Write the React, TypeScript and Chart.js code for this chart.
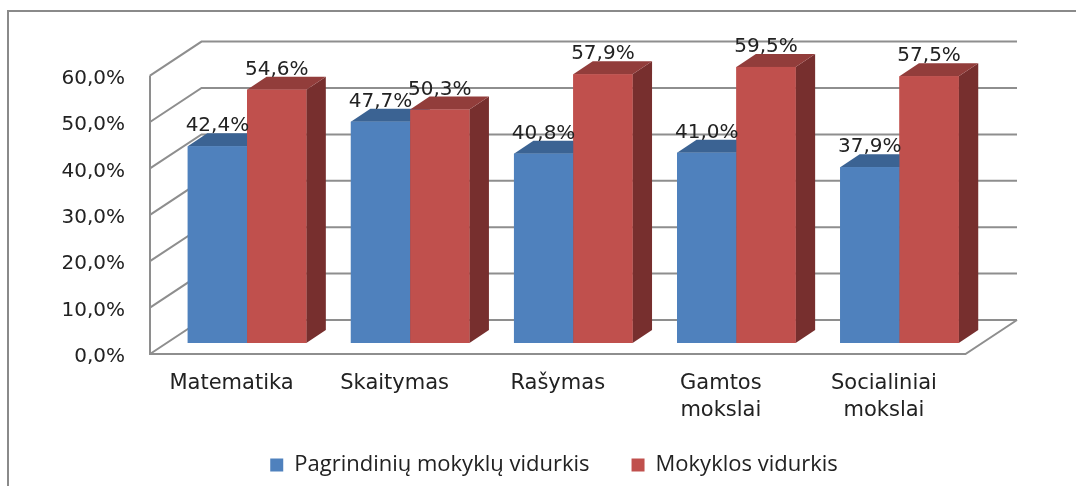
import React, { useEffect, useRef } from "react";
import { Chart, registerables } from "chart.js";

Chart.register(...registerables);

const categories: string[][] = [
  ["Matematika"],
  ["Skaitymas"],
  ["Rašymas"],
  ["Gamtos", "mokslai"],
  ["Socialiniai", "mokslai"],
];
const seriesNames = ["Pagrindinių mokyklų vidurkis", "Mokyklos vidurkis"];
const pagrindiniuValues = [42.4, 47.7, 40.8, 41.0, 37.9];
const mokyklosValues = [54.6, 50.3, 57.9, 59.5, 57.5];
const yTickValues = [0, 10, 20, 30, 40, 50, 60];

const FRONT = ["#4F81BD", "#C0504D"];
const TOP = ["#3B6393", "#923D3B"];
const SIDE = ["#2F4F77", "#772F2E"];
const GRID = "#8E8E8E";
const TEXT = "#222222";
const TICK_FONT = "'DejaVu Sans', Verdana, sans-serif";

const BAR_DX = 19.5;
const BAR_DY = 13;
const FRONT_DX = -15.5;
const FRONT_DY = 11;
const BACK_DX = 36;
const BACK_DY = -23;

const fmt = (v: number) => v.toFixed(1).replace(".", ",") + "%";

const threeDPlugin = {
  id: "threeD",
  beforeDraw(chart: any) {
    const ctx = chart.ctx;
    ctx.save();
    ctx.strokeStyle = "#8A8A8A";
    ctx.lineWidth = 2;
    ctx.beginPath();
    ctx.moveTo(8, chart.height);
    ctx.lineTo(8, 11);
    ctx.lineTo(chart.width, 11);
    ctx.stroke();
    ctx.restore();
  },
  beforeDatasetsDraw(chart: any) {
    const ctx = chart.ctx;
    const { left, right } = chart.chartArea;
    const ys = chart.scales.y;
    ctx.save();
    ctx.strokeStyle = GRID;
    ctx.lineWidth = 2;
    yTickValues.forEach((v) => {
      const py = ys.getPixelForValue(v);
      ctx.beginPath();
      ctx.moveTo(left + FRONT_DX, py + FRONT_DY);
      ctx.lineTo(left + BACK_DX, py + BACK_DY);
      ctx.lineTo(right + BACK_DX, py + BACK_DY);
      ctx.stroke();
    });
    const y0 = ys.getPixelForValue(0);
    const yMax = ys.getPixelForValue(yTickValues[yTickValues.length - 1]);
    ctx.beginPath();
    ctx.moveTo(left + FRONT_DX, yMax + FRONT_DY);
    ctx.lineTo(left + FRONT_DX, y0 + FRONT_DY);
    ctx.lineTo(right + FRONT_DX, y0 + FRONT_DY);
    ctx.lineTo(right + BACK_DX, y0 + BACK_DY);
    ctx.stroke();
    ctx.restore();
  },
  afterDatasetsDraw(chart: any) {
    const ctx = chart.ctx;
    const metas = chart.data.datasets.map((_: any, i: number) => chart.getDatasetMeta(i));
    ctx.save();
    for (let j = 0; j < categories.length; j++) {
      metas.forEach((meta: any, i: number) => {
        const el = meta.data[j];
        const { x, y, base, width } = el.getProps(["x", "y", "base", "width"], true);
        const x0 = x - width / 2;
        const x1 = x + width / 2;
        ctx.fillStyle = SIDE[i];
        ctx.beginPath();
        ctx.moveTo(x1, y);
        ctx.lineTo(x1 + BAR_DX, y - BAR_DY);
        ctx.lineTo(x1 + BAR_DX, base - BAR_DY);
        ctx.lineTo(x1, base);
        ctx.closePath();
        ctx.fill();
        ctx.fillStyle = TOP[i];
        ctx.beginPath();
        ctx.moveTo(x0, y);
        ctx.lineTo(x0 + BAR_DX, y - BAR_DY);
        ctx.lineTo(x1 + BAR_DX, y - BAR_DY);
        ctx.lineTo(x1, y);
        ctx.closePath();
        ctx.fill();
        ctx.fillStyle = FRONT[i];
        ctx.fillRect(x0, y, width, base - y);
      });
    }
    ctx.fillStyle = TEXT;
    ctx.font = `20px ${TICK_FONT}`;
    ctx.textAlign = "center";
    ctx.textBaseline = "alphabetic";
    metas.forEach((meta: any, i: number) => {
      meta.data.forEach((el: any, j: number) => {
        const { x, y } = el.getProps(["x", "y"], true);
        const v = chart.data.datasets[i].data[j];
        ctx.fillText(fmt(v), x, y - 15);
      });
    });
    ctx.restore();
  },
};

export default function App() {
  const ref = useRef<HTMLCanvasElement>(null);
  useEffect(() => {
    if (!ref.current) return;
    const chart = new Chart(ref.current, {
      type: "bar",
      data: {
        labels: categories,
        datasets: [
          { label: seriesNames[0], data: pagrindiniuValues, backgroundColor: FRONT[0], borderWidth: 0 },
          { label: seriesNames[1], data: mokyklosValues, backgroundColor: FRONT[1], borderWidth: 0 },
        ],
      },
      options: {
        responsive: false,
        animation: false,
        categoryPercentage: 0.727,
        barPercentage: 1,
        layout: { padding: { top: 64.6, left: 32, right: 0, bottom: 0 } },
        plugins: {
          tooltip: { enabled: false },
          legend: {
            position: "bottom",
            labels: {
              boxWidth: 13,
              boxHeight: 13,
              padding: 42,
              color: TEXT,
              font: { family: "'Open Sans', sans-serif", size: 22 },
            },
          },
        },
        scales: {
          x: {
            grid: { display: false, drawTicks: false },
            border: { display: false },
            ticks: {
              color: TEXT,
              font: { family: TICK_FONT, size: 21, lineHeight: 1.3 },
              padding: 27,
              labelOffset: FRONT_DX,
              maxRotation: 0,
              autoSkip: false,
            },
            afterFit: (s: any) => {
              s.height = 486 - 343 - (22 + 42 + 10);
              s._computeLabelArea = () => undefined;
            },
          },
          y: {
            min: 0,
            max: 60,
            grid: { display: false, drawTicks: false },
            border: { display: false },
            afterBuildTicks: (s: any) => {
              s.ticks = yTickValues.map((v) => ({ value: v }));
            },
            ticks: {
              color: TEXT,
              font: { family: TICK_FONT, size: 20 },
              padding: 40.5,
              labelOffset: 14,
              callback: (v: any) => fmt(Number(v)),
            },
            afterFit: (s: any) => {
              s.width = 133.5;
            },
          },
          y2: {
            position: "right",
            min: 0,
            max: 60,
            grid: { display: false, drawTicks: false },
            border: { display: false },
            ticks: { display: false },
            afterFit: (s: any) => {
              s.width = 95;
            },
          },
        },
      },
      plugins: [threeDPlugin],
    } as any);
    return () => chart.destroy();
  }, []);
  return (
    <div style={{ position: "fixed", left: 0, top: 0, width: 1076, height: 486, background: "#fff" }}>
      <canvas ref={ref} width={1076} height={486} style={{ display: "block" }} />
    </div>
  );
}
